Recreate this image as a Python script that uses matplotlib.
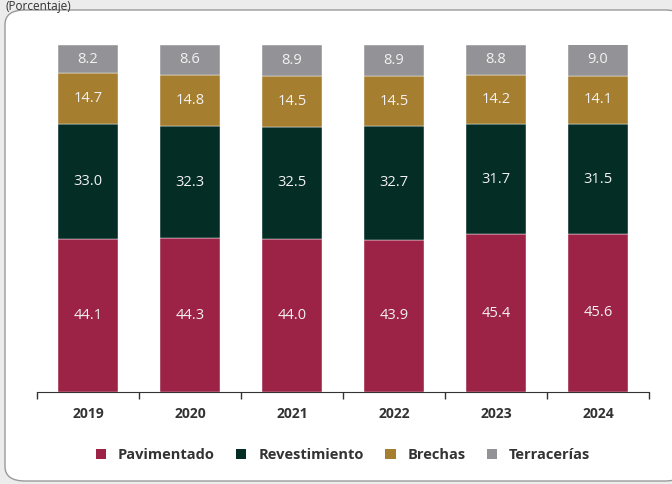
import numpy as np
import matplotlib.pyplot as plt
from matplotlib.patches import FancyBboxPatch, Patch

# Datos
anios = ["2019", "2020", "2021", "2022", "2023", "2024"]
pavimentado = [44.1, 44.3, 44.0, 43.9, 45.4, 45.6]
revestimiento = [33.0, 32.3, 32.5, 32.7, 31.7, 31.5]
brechas = [14.7, 14.8, 14.5, 14.5, 14.2, 14.1]
terracerias = [8.2, 8.6, 8.9, 8.9, 8.8, 9.0]

series = [("Pavimentado", pavimentado, "#9c2246"),
          ("Revestimiento", revestimiento, "#032d25"),
          ("Brechas", brechas, "#a67e2f"),
          ("Terracerías", terracerias, "#939397")]

plt.rcParams['font.family'] = ['Open Sans', 'DejaVu Sans']

fig = plt.figure(figsize=(6.72, 4.84), dpi=100)
fig.patch.set_facecolor("#ececec")

# Marco redondeado
caja = FancyBboxPatch((5 / 672, 3 / 484), 680 / 672, 471 / 484,
                      boxstyle="round,pad=0,rounding_size=0.03",
                      transform=fig.transFigure, facecolor="white",
                      edgecolor="#9a9a9a", linewidth=1.0, zorder=-5)
fig.patches.append(caja)
fig.text(0.008, 0.999, "(Porcentaje)", fontsize=8.5, color="#333333",
         ha="left", va="top")

ax = fig.add_axes([37 / 672, 1 - 392 / 484, 612 / 672, 347 / 484])
ax.set_facecolor("none")
ax.set_zorder(2)

x = np.arange(len(anios))
base = np.zeros(len(anios))
for nombre, vals, color in series:
    vals = np.array(vals)
    ax.bar(x, vals, bottom=base, width=0.58, color=color,
           edgecolor="white", linewidth=0.3, label=nombre)
    for xi, b, v in zip(x, base, vals):
        ax.text(xi, b + v / 2, f"{v:.1f}", ha="center", va="center",
                color="#f2f2f2", fontsize=10.5)
    base += vals

ax.set_xlim(-0.5, len(anios) - 0.5)
ax.set_ylim(0, 100)
for s in ["top", "right", "left"]:
    ax.spines[s].set_visible(False)
ax.spines["bottom"].set_color("#333333")
ax.set_yticks([])
ax.set_xticks(np.arange(-0.5, len(anios)), minor=False)
ax.set_xticklabels([])
ax.tick_params(axis="x", length=5, color="#333333", width=1)
for xi, a in zip(x, anios):
    ax.text(xi, -6.3, a, ha="center", va="center", fontsize=10,
            fontweight="bold", color="#333333")

handles = [Patch(facecolor=c, edgecolor="none") for _, _, c in series]
fig.legend(handles, [n for n, _, _ in series], loc="center",
           bbox_to_anchor=(343 / 672, 1 - 455 / 484), ncol=4, frameon=False,
           handlelength=0.7, handleheight=0.7, handletextpad=0.8,
           columnspacing=1.5, prop={"weight": "bold", "size": 10.5},
           labelcolor="#333333")

fig.savefig("out.png", dpi=100, facecolor=fig.get_facecolor())
